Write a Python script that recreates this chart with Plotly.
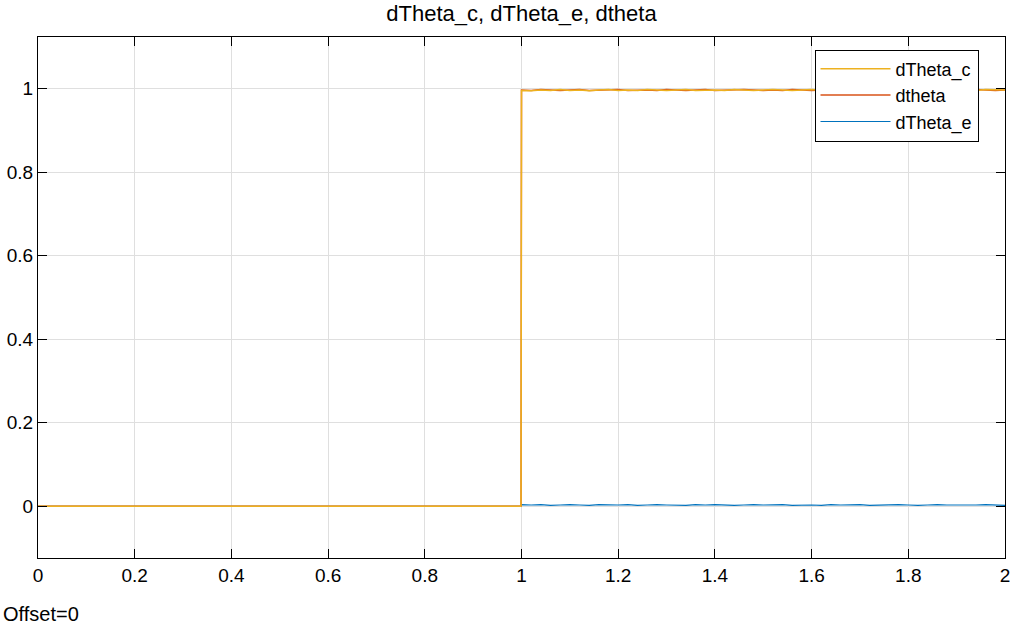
import plotly.graph_objects as go

# time base (s) and signals
t_pre = [0.0, 0.2, 0.4, 0.6, 0.8, 0.999]
t_post = [1.0, 1.02, 1.04, 1.06, 1.08, 1.10, 1.12, 1.14, 1.16, 1.18,
          1.20, 1.22, 1.24, 1.26, 1.28, 1.30, 1.32, 1.34, 1.36, 1.38,
          1.40, 1.42, 1.44, 1.46, 1.48, 1.50, 1.52, 1.54, 1.56, 1.58,
          1.60, 1.62, 1.64, 1.66, 1.68, 1.70, 1.72, 1.74, 1.76, 1.78,
          1.80, 1.82, 1.84, 1.86, 1.88, 1.90, 1.92, 1.94, 1.96, 1.98, 2.0]

dtheta_c_pre = [0, 0, 0, 0, 0, 0]
dtheta_c_post = [0.996, 0.995, 0.997, 0.996, 0.998, 0.996, 0.997, 0.995, 0.997, 0.998,
                 0.996, 0.997, 0.996, 0.998, 0.997, 0.996, 0.997, 0.998, 0.996, 0.997,
                 0.997, 0.996, 0.998, 0.997, 0.996, 0.997, 0.998, 0.997, 0.996, 0.997,
                 0.998, 0.996, 0.997, 0.997, 0.998, 0.996, 0.997, 0.998, 0.997, 0.996,
                 0.997, 0.998, 0.997, 0.996, 0.998, 0.997, 0.997, 0.996, 0.998, 0.997, 0.997]

dtheta_pre = [0, 0, 0, 0, 0, 0]
dtheta_post = [0.997, 0.996, 0.998, 0.997, 0.996, 0.997, 0.998, 0.996, 0.997, 0.997,
               0.998, 0.996, 0.997, 0.997, 0.996, 0.998, 0.997, 0.996, 0.997, 0.998,
               0.996, 0.997, 0.997, 0.998, 0.997, 0.996, 0.997, 0.996, 0.998, 0.997,
               0.996, 0.997, 0.998, 0.996, 0.997, 0.997, 0.996, 0.997, 0.998, 0.997,
               0.996, 0.997, 0.996, 0.998, 0.997, 0.996, 0.997, 0.998, 0.997, 0.996, 0.997]

dtheta_e_pre = [0, 0, 0, 0, 0, 0]
dtheta_e_post = [0.004, 0.003, 0.004, 0.002, 0.003, 0.004, 0.003, 0.002, 0.004, 0.003,
                 0.003, 0.004, 0.002, 0.003, 0.004, 0.003, 0.003, 0.002, 0.004, 0.003,
                 0.004, 0.003, 0.002, 0.003, 0.004, 0.003, 0.003, 0.004, 0.002, 0.003,
                 0.003, 0.002, 0.004, 0.003, 0.003, 0.004, 0.002, 0.003, 0.003, 0.004,
                 0.003, 0.002, 0.003, 0.004, 0.003, 0.003, 0.002, 0.003, 0.004, 0.003, 0.002]

t = t_pre + t_post
series = [
    ("dTheta_e", dtheta_e_pre + dtheta_e_post, "#0072BD", 1.2),
    ("dtheta", dtheta_pre + dtheta_post, "#D95319", 1.5),
    ("dTheta_c", dtheta_c_pre + dtheta_c_post, "#EDB120", 1.5),
]

fig = go.Figure()
for name, y, col, w in series:
    fig.add_trace(go.Scatter(x=t, y=y, mode="lines", name=name,
                             line=dict(color=col, width=w)))

font = "Liberation Sans, Arial, Helvetica, sans-serif"

fig.update_layout(
    width=1029,
    height=629,
    plot_bgcolor="white",
    paper_bgcolor="white",
    margin=dict(l=37.5, r=23.5, t=36.5, b=71),
    font=dict(family=font, size=19, color="black"),
    title=dict(text="dTheta_c, dTheta_e, dtheta", x=0.5, xref="paper",
               y=0.979, yref="container", yanchor="middle",
               font=dict(size=22, color="black")),
    legend=dict(traceorder="reversed", x=0.9726, y=0.976, xanchor="right", yanchor="top",
                bgcolor="white", bordercolor="black", borderwidth=1,
                font=dict(size=18), tracegroupgap=0, itemwidth=70),
    showlegend=True,
)

fig.update_xaxes(
    range=[0, 2], dtick=0.2, tickformat="~g", automargin=False,
    showgrid=True, gridcolor="#DFDFDF", gridwidth=1, zeroline=False,
    showline=True, linecolor="black", linewidth=1, mirror="allticks",
    ticks="inside", ticklen=9, tickcolor="black", tickwidth=1,
)
fig.update_yaxes(
    range=[-0.124, 1.124], tickvals=[0, 0.2, 0.4, 0.6, 0.8, 1],
    ticktext=["0", "0.2", "0.4", "0.6", "0.8", "1"], automargin=False,
    showgrid=True, gridcolor="#DFDFDF", gridwidth=1, zeroline=False,
    showline=True, linecolor="black", linewidth=1, mirror="allticks",
    ticks="inside", ticklen=9, tickcolor="black", tickwidth=1,
)

fig.add_annotation(text="Offset=0", xref="paper", yref="paper", x=-0.0387, y=-0.1074,
                   xanchor="left", yanchor="middle", showarrow=False,
                   font=dict(size=20, color="black"))

# the page body has a default 8px margin; drop it so the figure sits at 0,0
post_script = "document.body.style.margin = '0';"

fig.write_html("out.html", post_script=post_script, config={"displayModeBar": False})
